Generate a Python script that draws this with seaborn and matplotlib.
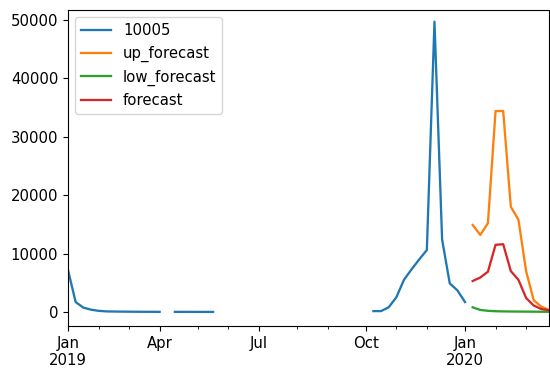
import numpy as np
import pandas as pd
import matplotlib
matplotlib.use("Agg")
import matplotlib.pyplot as plt
import seaborn as sns

nan = np.nan
# weekly periods (W-MON), first period ends 2019-01-07
first_week_end = "2019-01-07"
n_hist = 53
n_fc = 11

series_10005 = [7200, 1700, 750, 400, 200, 100, 80, 60, 50, 40, 30, 30, 20,
                nan,
                20, 20, 15, 15, 10, 10,
                nan, nan, nan, nan, nan, nan, nan, nan, nan, nan,
                nan, nan, nan, nan, nan, nan, nan, nan, nan, nan,
                150, 150, 800, 2500, 5500, 7300, 9000, 10600, 49700,
                12400, 4900, 3700, 1700]
up_forecast = [14900, 13200, 15200, 34400, 34400, 18000, 15800, 7000, 2000, 900, 350]
low_forecast = [800, 350, 200, 130, 100, 80, 70, 60, 50, 40, 30]
forecast = [5300, 5900, 6900, 11500, 11600, 7000, 5500, 2400, 1100, 500, 300]

names = ["10005", "up_forecast", "low_forecast", "forecast"]
colors = ["#1f77b4", "#ff7f0e", "#2ca02c", "#d62728"]

all_weeks = pd.date_range(first_week_end, periods=n_hist + n_fc, freq="7D")
week_idx = np.arange(n_hist + n_fc)

rows = []
def add(name, idx, vals):
    seg = 0
    prev_nan = True
    for i, v in zip(idx, vals):
        if np.isnan(v):
            prev_nan = True
            continue
        if prev_nan:
            seg += 1
            prev_nan = False
        rows.append({"week": i, "value": v, "series": name, "seg": f"{name}_{seg}"})

add(names[0], week_idx[:n_hist], series_10005)
add(names[1], week_idx[n_hist:], up_forecast)
add(names[2], week_idx[n_hist:], low_forecast)
add(names[3], week_idx[n_hist:], forecast)
df = pd.DataFrame(rows)

plt.rcParams["font.size"] = 10.7
fig = plt.figure(figsize=(5.5, 3.71), dpi=100)
ax = fig.add_axes([68/550, 1-326/371, (549-68)/550, (326-10)/371])

sns.lineplot(data=df, x="week", y="value", hue="series", hue_order=names,
             palette=colors, units="seg", estimator=None, sort=False,
             linewidth=1.65, ax=ax)

ax.set_xlim(week_idx[0], week_idx[-1])
ax.set_ylim(-2400, 51700)
ax.set_xlabel("")
ax.set_ylabel("")

# period-style date ticks: at first week of each month
months = all_weeks.month
change = np.r_[True, months[1:] != months[:-1]]
minor_pos = week_idx[change]
major_pos = [w for w in minor_pos if all_weeks[w].month in (1, 4, 7, 10)]
major_lab = []
for w in major_pos:
    d = all_weeks[w]
    major_lab.append(f"{d.strftime('%b')}\n{d.year}" if d.month == 1 else d.strftime("%b"))
ax.set_xticks(major_pos)
ax.set_xticklabels(major_lab)
ax.set_xticks([w for w in minor_pos if w not in major_pos], minor=True)
ax.set_yticks([0, 10000, 20000, 30000, 40000, 50000])
ax.set_yticklabels(["0", "10000", "20000", "30000", "40000", "50000"])

handles, labels = ax.get_legend_handles_labels()
ax.legend(handles, labels, loc="upper left")

fig.savefig("out.png", dpi=100)
